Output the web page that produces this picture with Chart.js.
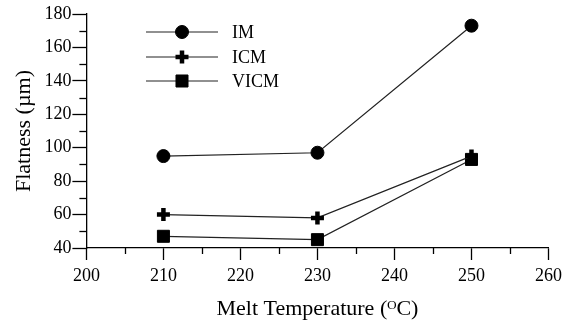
<!DOCTYPE html>
<html>
<head>
<meta charset="utf-8">
<script src="https://cdn.jsdelivr.net/npm/chart.js@4.4.1/dist/chart.umd.min.js"></script>
<style>
  html, body { margin: 0; padding: 0; background: #fff; }
  #wrap { width: 567px; height: 332px; }
</style>
</head>
<body>
<div id="wrap"><canvas id="flatness-chart" width="567" height="332"></canvas></div>
<script>
const temps = [210, 230, 250];
const imFlatness = [95, 97, 173];
const icmFlatness = [60, 58, 95];
const vicmFlatness = [47, 45, 93];
const xTicks = [200, 210, 220, 230, 240, 250, 260];
const yTicks = [40, 60, 80, 100, 120, 140, 160, 180];

const serif = "'Liberation Serif', 'Times New Roman', serif";
Chart.defaults.font.family = serif;
Chart.defaults.color = '#000';

// minor ticks halfway between the major ones, and the inset legend
const extras = {
  id: 'extras',
  afterDraw(chart) {
    const ctx = chart.ctx;
    const xs = chart.scales.x, ys = chart.scales.y;
    ctx.save();
    ctx.strokeStyle = '#000';
    ctx.lineWidth = 1.3;
    for (let i = 0; i < xTicks.length - 1; i++) {
      const px = Math.round(xs.getPixelForValue((xTicks[i] + xTicks[i + 1]) / 2)) + 0.5;
      ctx.beginPath();
      ctx.moveTo(px, ys.bottom);
      ctx.lineTo(px, ys.bottom + 6);
      ctx.stroke();
    }
    for (let i = 0; i < yTicks.length - 1; i++) {
      const py = Math.round(ys.getPixelForValue((yTicks[i] + yTicks[i + 1]) / 2)) + 0.5;
      ctx.beginPath();
      ctx.moveTo(xs.left, py);
      ctx.lineTo(xs.left - 7, py);
      ctx.stroke();
    }

    // legend
    const rows = [32, 57, 81];
    chart.data.datasets.forEach((ds, i) => {
      const y = rows[i];
      ctx.strokeStyle = '#222';
      ctx.lineWidth = 1.2;
      ctx.beginPath();
      ctx.moveTo(146, y);
      ctx.lineTo(218, y);
      ctx.stroke();
      ctx.fillStyle = '#000';
      ctx.strokeStyle = '#000';
      ctx.lineWidth = ds.pointBorderWidth;
      Chart.helpers.drawPoint(ctx, {
        pointStyle: ds.pointStyle,
        radius: ds.pointRadius,
        rotation: 0,
        borderWidth: ds.pointBorderWidth
      }, 182, y);
      ctx.fillStyle = '#000';
      ctx.font = '18px ' + serif;
      ctx.textBaseline = 'middle';
      ctx.textAlign = 'left';
      ctx.fillText(ds.label, 232, y + 1);
    });
    ctx.restore();
  }
};

function series(label, values, style, radius, bw) {
  return {
    label: label,
    data: temps.map((t, i) => ({ x: t, y: values[i] })),
    borderColor: '#222',
    borderWidth: 1.2,
    backgroundColor: '#000',
    pointBackgroundColor: '#000',
    pointBorderColor: '#000',
    pointStyle: style,
    pointRadius: radius,
    pointHoverRadius: radius,
    pointBorderWidth: bw,
    tension: 0,
    fill: false
  };
}

const chart = new Chart(document.getElementById('flatness-chart'), {
  type: 'line',
  data: {
    datasets: [
      series('IM', imFlatness, 'circle', 6.5, 1),
      series('ICM', icmFlatness, 'cross', 6.5, 4.5),
      series('VICM', vicmFlatness, 'rect', 8.5, 1)
    ]
  },
  options: {
    responsive: false,
    animation: false,
    devicePixelRatio: 1,
    layout: { padding: { top: 14, right: 18, left: 11, bottom: 10 } },
    plugins: {
      legend: { display: false },
      tooltip: { enabled: false }
    },
    scales: {
      x: {
        type: 'linear',
        min: 200,
        max: 260,
        afterBuildTicks: (s) => { s.ticks = xTicks.map(v => ({ value: v })); },
        grid: { drawOnChartArea: false, tickLength: 12, color: '#000', tickWidth: 1.3 },
        border: { display: true, color: '#000', width: 1.3 },
        ticks: { color: '#000', font: { family: serif, size: 18 }, padding: 5, maxRotation: 0 },
        title: {
          display: true,
          text: 'Melt Temperature (ᴼC)',
          color: '#000',
          font: { family: serif, size: 22 },
          padding: { top: 4, bottom: 0 }
        }
      },
      y: {
        type: 'linear',
        min: 40,
        max: 180,
        afterBuildTicks: (s) => { s.ticks = yTicks.map(v => ({ value: v })); },
        grid: { drawOnChartArea: false, tickLength: 14, color: '#000', tickWidth: 1.3 },
        border: { display: true, color: '#000', width: 1.3 },
        ticks: { color: '#000', font: { family: serif, size: 18 }, padding: 1 },
        title: {
          display: true,
          text: 'Flatness (µm)',
          color: '#000',
          font: { family: serif, size: 22 },
          padding: { top: 0, bottom: 6 }
        }
      }
    }
  },
  plugins: [extras]
});
</script>
</body>
</html>
